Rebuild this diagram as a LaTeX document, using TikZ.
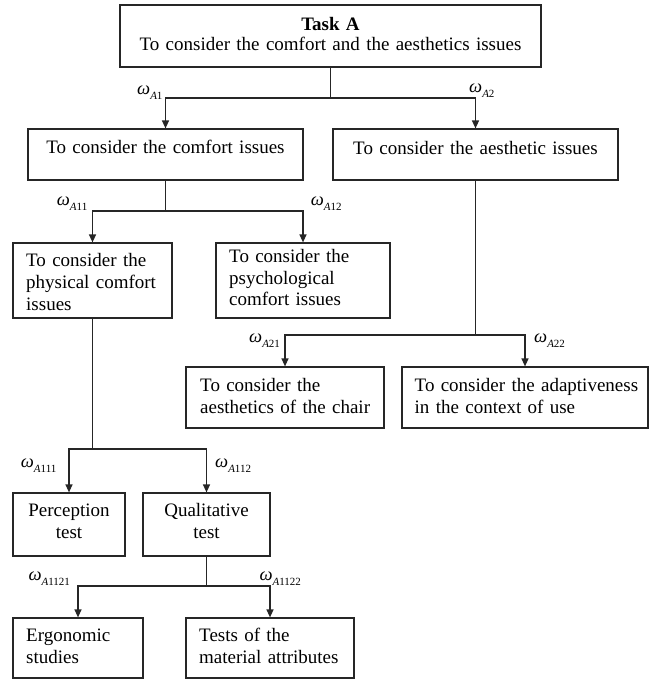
\documentclass[tikz,border=0pt]{standalone}
\usepackage{fontspec}
\setmainfont{Liberation Serif}
\usetikzlibrary{arrows.meta}
\newcommand\omlab[2]{{\fontsize{18.5}{18.5}\selectfont\itshape ω}\raisebox{-5pt}{\fontsize{11}{11}\selectfont\itshape #1\upshape #2}}
\begin{document}
\begin{tikzpicture}[x=1pt,y=-1pt,
  box/.style={draw=black!85,line width=1.2pt,inner sep=0pt},
  txt/.style={inner sep=0pt,font=\fontsize{19}{21.7}\selectfont},
  ltxt/.style={txt,anchor=base west,align=left,text width=300pt},
  ctxt/.style={txt,anchor=base,align=center},
  con/.style={draw=black!85,line width=1.3pt},
  arr/.style={con,-{Triangle[length=8pt,width=7pt]}},
  wlab/.style={inner sep=0pt,anchor=base west}]
\useasboundingbox (0,0) rectangle (655,680);

% boxes
\node[box,minimum width=421pt,minimum height=62pt] (taskA) at (330.5,36) {};
\node[box,minimum width=275pt,minimum height=51pt] (comfort) at (165.5,154.5) {};
\node[box,minimum width=285pt,minimum height=51pt] (aesth) at (475.5,154.5) {};
\node[box,minimum width=159pt,minimum height=75pt] (phys) at (92.5,280.5) {};
\node[box,minimum width=174pt,minimum height=75pt] (psych) at (303,280.5) {};
\node[box,minimum width=198pt,minimum height=61pt] (chair) at (285,397.5) {};
\node[box,minimum width=246pt,minimum height=61pt] (adapt) at (525,397.5) {};
\node[box,minimum width=112pt,minimum height=63pt] (percep) at (69,524.5) {};
\node[box,minimum width=127pt,minimum height=63pt] (qual) at (206.5,524.5) {};
\node[box,minimum width=130pt,minimum height=60pt] (ergo) at (78,648) {};
\node[box,minimum width=168pt,minimum height=60pt] (tests) at (270,648) {};

% texts
\node[ctxt,text width=421pt,font=\fontsize{19}{20.5}\selectfont] (taskA-t) at (330.5,30.5) {\textbf{Task A}\\To consider the comfort and the aesthetics issues};
\node[ctxt,text width=275pt] (comfort-t) at (165.5,153) {To consider the comfort issues};
\node[ctxt,text width=285pt] (aesth-t) at (475.5,154) {To consider the aesthetic issues};
\node[ltxt] (phys-t) at (26,266.7) {To consider the\\physical comfort\\issues};
\node[ltxt] (psych-t) at (229,262.5) {To consider the\\psychological\\comfort issues};
\node[ltxt] (chair-t) at (200,391.7) {To consider the\\aesthetics of the chair};
\node[ltxt] (adapt-t) at (414.5,391.7) {To consider the adaptiveness\\in the context of use};
\node[ctxt,text width=112pt] (percep-t) at (69,516.7) {Perception\\test};
\node[ctxt,text width=127pt] (qual-t) at (206.5,516.7) {Qualitative\\test};
\node[ltxt] (ergo-t) at (26,641.7) {Ergonomic\\studies};
\node[ltxt] (tests-t) at (199,641.7) {Tests of the\\material attributes};

% junctions
\coordinate (j1) at (330.5,98);
\coordinate (j2) at (165.5,211);
\coordinate (j3) at (475.5,335);
\coordinate (j4) at (92.5,449);
\coordinate (j5) at (206.5,586);

% connectors
\draw[con] (taskA.south) -- (j1);
\draw[arr] (j1) -| (comfort.north);
\draw[arr] (j1) -| (aesth.north);
\draw[con] (comfort.south) -- (j2);
\draw[arr] (j2) -| (phys.north);
\draw[arr] (j2) -| (psych.north);
\draw[con] (aesth.south) -- (j3);
\draw[arr] (j3) -| (chair.north);
\draw[arr] (j3) -| (adapt.north);
\draw[con] (phys.south) -- (j4);
\draw[arr] (j4) -| (percep.north);
\draw[arr] (j4) -| (qual.north);
\draw[con] (qual.south) -- (j5);
\draw[arr] (j5) -| (ergo.north);
\draw[arr] (j5) -| (tests.north);

% weight labels
\node[wlab] (wA1) at (137,94) {\omlab{A}{1}};
\node[wlab] (wA2) at (469,92.3) {\omlab{A}{2}};
\node[wlab] (wA11) at (56.7,205) {\omlab{A}{11}};
\node[wlab] (wA12) at (310.7,205.7) {\omlab{A}{12}};
\node[wlab] (wA21) at (249,342.3) {\omlab{A}{21}};
\node[wlab] (wA22) at (534,342) {\omlab{A}{22}};
\node[wlab] (wA111) at (20.7,467.3) {\omlab{A}{111}};
\node[wlab] (wA112) at (215,467.3) {\omlab{A}{112}};
\node[wlab] (wA1121) at (28.3,580.7) {\omlab{A}{1121}};
\node[wlab] (wA1122) at (259.3,580.7) {\omlab{A}{1122}};
\end{tikzpicture}
\end{document}
